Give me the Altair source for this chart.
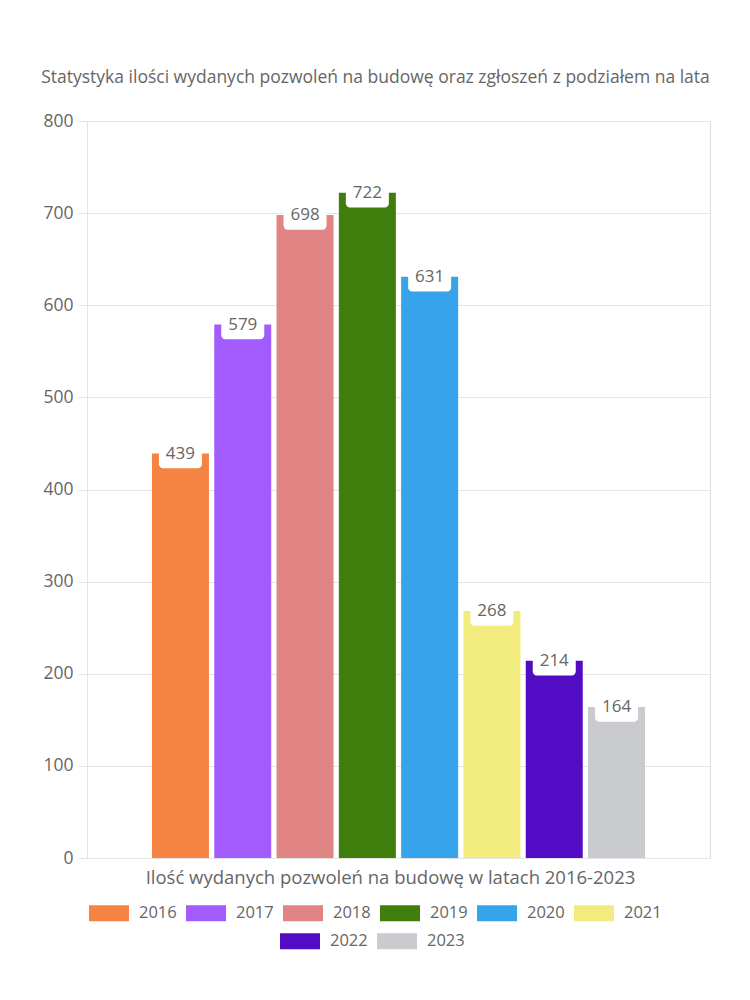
import altair as alt
import pandas as pd

years = ["2016", "2017", "2018", "2019", "2020", "2021", "2022", "2023"]
values = [439, 579, 698, 722, 631, 268, 214, 164]
colors = ["#F58442", "#A25CFE", "#E18484", "#3F7E0D", "#37A3EA", "#F1EC7D", "#520CC4", "#CACBCF"]

title_text = "Statystyka ilości wydanych pozwoleń na budowę oraz zgłoszeń z podziałem na lata"
x_title = "Ilość wydanych pozwoleń na budowę w latach 2016-2023"
y_ticks = [0, 100, 200, 300, 400, 500, 600, 700, 800]

FONT = "Open Sans"
TXT = "#666666"
GRID = "#e5e5e5"

df = pd.DataFrame({"year": years, "value": values})
base = alt.Chart(df)

x_enc = alt.X(
    "year:N",
    sort=years,
    scale=alt.Scale(domain=years, paddingInner=0, paddingOuter=1),
    axis=alt.Axis(labels=False, ticks=False, grid=False, title=x_title,
                  titleFontSize=18.5, titleColor=TXT, titleFont=FONT,
                  titleFontWeight="normal", titlePadding=10, titleX=303,
                  domainColor=GRID),
)
y_enc = alt.Y(
    "value:Q",
    scale=alt.Scale(domain=[0, 800], nice=False),
    axis=alt.Axis(values=y_ticks, title=None, labelFontSize=17.5, labelColor=TXT,
                  labelFont=FONT, tickColor=GRID, tickSize=9, gridColor=GRID,
                  domainColor=GRID, labelPadding=5),
)

sym = "M-1,-0.4H1V0.4H-1Z"
leg_common = dict(title=None, orient="none", direction="horizontal",
                  symbolType=sym, symbolSize=1600, symbolStrokeWidth=0,
                  labelFontSize=16.5, labelColor=TXT, labelFont=FONT,
                  labelOffset=10, columnPadding=9, symbolOpacity=1)

bars1 = base.transform_filter(
    alt.FieldOneOfPredicate(field="year", oneOf=years[:6])
).mark_bar(width=57).encode(
    x=x_enc, y=y_enc,
    color=alt.Color("year:N", scale=alt.Scale(domain=years[:6], range=colors[:6]),
                    legend=alt.Legend(columns=6, legendX=2, legendY=772, **leg_common)),
)
bars2 = base.transform_filter(
    alt.FieldOneOfPredicate(field="year", oneOf=years[6:])
).mark_bar(width=57).encode(
    x=x_enc, y=y_enc,
    fill=alt.Fill("year:N", scale=alt.Scale(domain=years[6:], range=colors[6:]),
                  legend=alt.Legend(columns=2, legendX=193, legendY=800, **leg_common)),
)

boxes = base.transform_calculate(
    top="datum.value + 14", bot="datum.value - 16"
).mark_bar(color="white", width=43, cornerRadius=4).encode(
    x=x_enc, y=alt.Y("top:Q"), y2="bot:Q"
)
labels = base.mark_text(fontSize=17, color=TXT, font=FONT, baseline="middle").encode(
    x=x_enc, y=alt.Y("value:Q"), text=alt.Text("value:Q")
)

chart = alt.layer(bars1, bars2, boxes, labels).resolve_scale(
    color="independent", fill="independent"
).properties(
    width=623, height=737,
    title=alt.Title(title_text, fontSize=17.5, color=TXT, font=FONT, fontWeight="normal",
                    anchor="middle", frame="group", dx=-23, offset=26),
    autosize=alt.AutoSizeParams(type="none"),
    padding={"left": 87, "top": 121, "right": 40, "bottom": 142},
).configure_view(stroke=GRID).configure(background="white")

chart.save("out.html", embed_options={"renderer": "svg", "actions": False})
